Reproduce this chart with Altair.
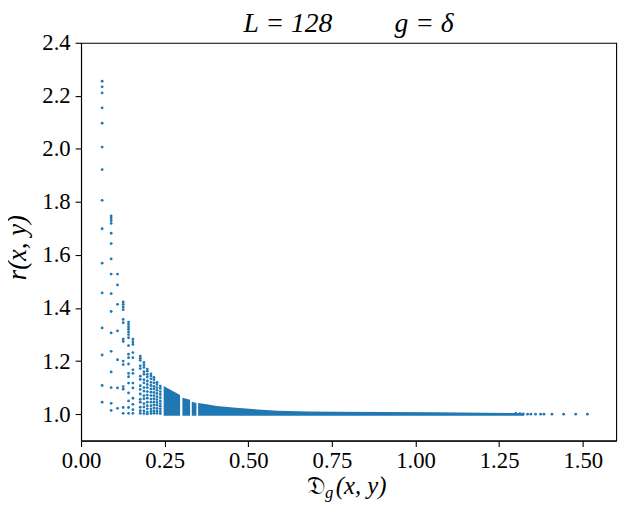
import altair as alt
import pandas as pd

# ---- sparse columns: x position and r values ----
col_x = [0.063, 0.090, 0.109, 0.126, 0.142, 0.155,
         0.177, 0.188, 0.198, 0.209, 0.218, 0.227, 0.237]
col_r = [
    [2.255, 2.234, 2.211, 2.155, 2.097, 2.007, 1.922, 1.806, 1.699, 1.569,
     1.457, 1.325, 1.223, 1.108, 1.045],
    [1.747, 1.739, 1.730, 1.719, 1.682, 1.643, 1.585, 1.528, 1.454, 1.387,
     1.306, 1.237, 1.159, 1.100, 1.041, 1.014],
    [1.528, 1.487, 1.414, 1.314, 1.205, 1.099, 1.022],
    [1.423, 1.414, 1.404, 1.394, 1.357, 1.345, 1.283, 1.274, 1.200, 1.187,
     1.104, 1.094, 1.025, 1.003],
    [1.347, 1.338, 1.329, 1.320, 1.310, 1.300, 1.288, 1.258, 1.226, 1.213,
     1.189, 1.154, 1.141, 1.117, 1.080, 1.050, 1.025, 1.003],
    [1.283, 1.273, 1.263, 1.232, 1.213, 1.167, 1.154, 1.117, 1.099, 1.060,
     1.037, 1.017, 1.003],
    [1.219, 1.211, 1.203, 1.182, 1.172, 1.143, 1.131, 1.107, 1.093, 1.076,
     1.056, 1.045, 1.026, 1.013, 1.003],
    [1.195, 1.186, 1.176, 1.160, 1.150, 1.130, 1.118, 1.100, 1.087, 1.070,
     1.058, 1.040, 1.027, 1.012, 1.002],
    [1.170, 1.162, 1.150, 1.140, 1.125, 1.112, 1.100, 1.085, 1.072, 1.060,
     1.045, 1.032, 1.020, 1.008, 1.001],
    [1.152, 1.144, 1.133, 1.120, 1.108, 1.095, 1.083, 1.070, 1.057, 1.045,
     1.032, 1.020, 1.010, 1.002],
    [1.139, 1.130, 1.118, 1.105, 1.095, 1.082, 1.070, 1.058, 1.046, 1.035,
     1.024, 1.012, 1.003],
    [1.120, 1.112, 1.100, 1.090, 1.078, 1.066, 1.055, 1.044, 1.034, 1.022,
     1.012, 1.003],
    [1.106, 1.097, 1.085, 1.074, 1.062, 1.050, 1.040, 1.030, 1.020, 1.010,
     1.002],
]

# ---- isolated points at the far right of the band ----
tail_x = [1.300, 1.312, 1.322, 1.335, 1.345, 1.359, 1.374, 1.384, 1.408,
          1.443, 1.479, 1.514]
tail_r = [1.003, 1.002, 1.001, 1.000, 1.000, 1.000, 1.000, 1.000, 1.000,
          1.000, 1.000, 1.000]

# ---- dense band (points packed too tightly to separate): visual edges ----
band_seg = ["a", "a", "a", "b", "b", "c", "c",
            "d", "d", "d", "d", "d", "d", "d", "d", "d", "d", "d", "d", "d"]
band_x = [0.247, 0.270, 0.296, 0.303, 0.326, 0.331, 0.345,
          0.350, 0.380, 0.405, 0.454, 0.513, 0.587, 0.680, 0.764, 0.900,
          1.060, 1.200, 1.290, 1.325]
band_top = [1.106, 1.090, 1.072, 1.062, 1.054, 1.047, 1.042,
            1.042, 1.036, 1.031, 1.025, 1.019, 1.013, 1.010, 1.009, 1.008,
            1.007, 1.005, 1.004, 1.003]
band_bottom = 0.9935

BLUE = "#1f77b4"
FONT = "Liberation Serif"

pts_x, pts_r = [], []
for x, rs in zip(col_x, col_r):
    for r in rs:
        pts_x.append(x)
        pts_r.append(r)
pts_x += tail_x
pts_r += tail_r
points = pd.DataFrame({"D": pts_x, "r": pts_r})
band = pd.DataFrame({"seg": band_seg, "D": band_x, "top": band_top,
                     "bottom": [band_bottom] * len(band_x)})

xscale = alt.Scale(domain=[0, 1.6], nice=False, zero=False)
yscale = alt.Scale(domain=[0.9, 2.4], nice=False, zero=False)

xaxis = alt.Axis(values=[0, 0.25, 0.5, 0.75, 1.0, 1.25, 1.5], format=".2f",
                 title="", labelFlush=False)
yaxis = alt.Axis(values=[1.0, 1.2, 1.4, 1.6, 1.8, 2.0, 2.2, 2.4], format=".1f",
                 labelFlush=False,
                 title="r(x, y)", titleFontSize=27, titleFont=FONT,
                 titleFontStyle="italic",
                 titleFontWeight="normal", titleColor="black",
                 titleBaseline="alphabetic", titleX=-56, titleY=207,
                 titleAngle=270)

area = alt.Chart(band).mark_area(color=BLUE, opacity=1, interpolate="linear").encode(
    x=alt.X("D:Q", scale=xscale, axis=xaxis),
    y=alt.Y("top:Q", scale=yscale, axis=yaxis),
    y2="bottom:Q",
    detail="seg:N",
)

dots = alt.Chart(points).mark_circle(color=BLUE, size=8, opacity=1).encode(
    x=alt.X("D:Q", scale=xscale),
    y=alt.Y("r:Q", scale=yscale),
)

# x-axis title built from pieces so that g can be a subscript
xt_main = alt.Chart(pd.DataFrame({"t": ["𝔇"]})).mark_text(
    font="DejaVu Serif", fontSize=25, align="left", baseline="alphabetic",
    color="black").encode(text="t:N", x=alt.value(229), y=alt.value(457))
xt_sub = alt.Chart(pd.DataFrame({"t": ["g"]})).mark_text(
    font=FONT, fontSize=17, fontStyle="italic", align="left",
    baseline="alphabetic", color="black").encode(
    text="t:N", x=alt.value(247), y=alt.value(461))
xt_rest = alt.Chart(pd.DataFrame({"t": ["(x, y)"]})).mark_text(
    font=FONT, fontSize=25, fontStyle="italic", align="left",
    baseline="alphabetic", color="black").encode(
    text="t:N", x=alt.value(258), y=alt.value(457))

chart = alt.layer(area, dots, xt_main, xt_sub, xt_rest).properties(
    width=542, height=403,
    title=alt.TitleParams("L = 128\u2003\u2003 g = δ", font=FONT, fontSize=28,
                          fontStyle="italic",
                          fontWeight="normal", color="black", anchor="middle",
                          offset=-6),
    autosize=alt.AutoSizeParams(type="none"),
    padding={"left": 74, "top": 32, "right": 15, "bottom": 68},
).configure_view(
    stroke="black", strokeWidth=1.1
).configure_axis(
    grid=False, domainColor="black", domainWidth=1.1, tickColor="black",
    tickWidth=1.1, tickSize=6, labelFont=FONT, labelFontSize=23,
    labelColor="black", labelPadding=5,
).configure_axisX(labelPadding=3)

chart.save("out.html", embed_options={"renderer": "svg", "actions": False})
